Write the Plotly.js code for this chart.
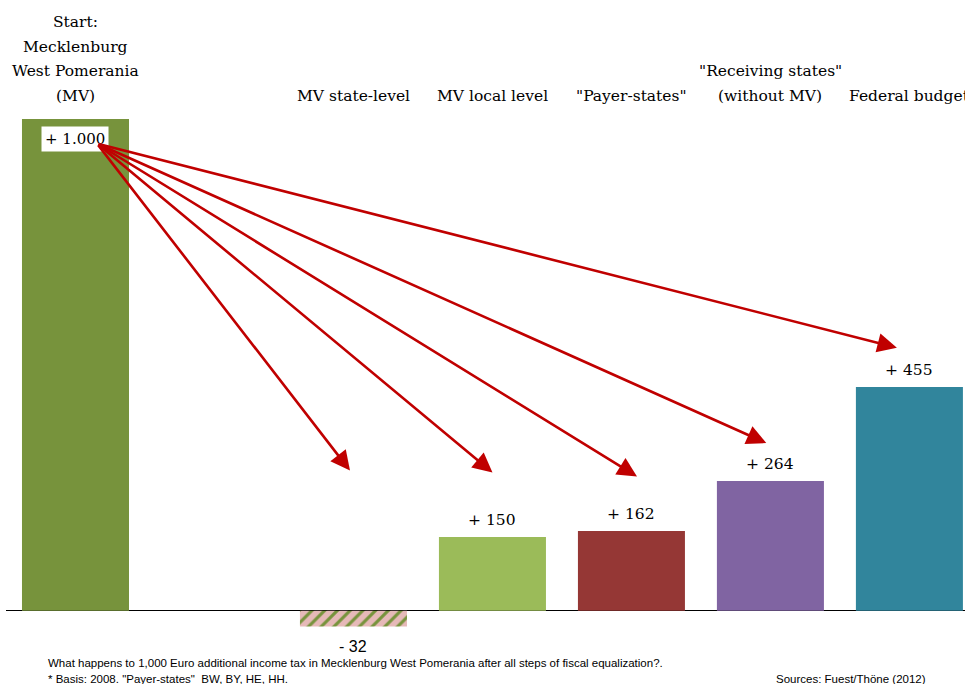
<!DOCTYPE html>
<html>
<head>
<meta charset="utf-8">
<script src="https://cdn.plot.ly/plotly-3.0.1.min.js"></script>
<style>html,body{margin:0;padding:0;background:#fff;}#chart{width:965px;height:684px;}</style>
</head>
<body>
<div id="chart"></div>
<script>
// ---- data ----
const categories = ["Start:\nMecklenburg\nWest Pomerania\n(MV)", "MV state-level", "MV local level", "\"Payer-states\"", "\"Receiving states\"\n(without MV)", "Federal budget"];
const slots = [0, 2, 3, 4, 5, 6];
const values = [1000, -32, 150, 162, 264, 455];
const valueLabels = ["+ 1.000", "- 32", "+ 150", "+ 162", "+ 264", "+ 455"];
const barColors = ["#77933C", "#E6B9B8", "#9BBB59", "#953735", "#8064A2", "#31859C"];
const stripeColor = "#77933C";
// arrows: from the start bar to each destination
const arrowStartX = 0.155;
const arrowStartY = 950;
const arrowEndX = [1.975, 3.0, 4.04, 4.97, 5.91];
const arrowEndY = [285, 281, 273, 341, 535];
const footnote1 = "What happens to 1,000 Euro additional income tax in Mecklenburg West Pomerania after all steps of fiscal equalization?.";
const footnote2 = "* Basis: 2008. \"Payer-states\"  BW, BY, HE, HH.";
const sourceText = "Sources: Fuest/Thöne (2012)";

const serif = "DejaVu Serif, serif";
const narrow = "Liberation Sans Narrow, Arial Narrow, Liberation Sans, sans-serif";

const posIdx = values.map((v, i) => i).filter(i => values[i] >= 0);
const negIdx = values.map((v, i) => i).filter(i => values[i] < 0);

const posTrace = {
  type: "bar",
  x: posIdx.map(i => slots[i]),
  y: posIdx.map(i => values[i]),
  width: 0.77,
  marker: {color: posIdx.map(i => barColors[i]), line: {width: 0}},
  hoverinfo: "skip",
  cliponaxis: false
};
const negTrace = {
  type: "bar",
  x: negIdx.map(i => slots[i]),
  y: negIdx.map(i => values[i]),
  width: 0.77,
  marker: {
    color: stripeColor,
    line: {width: 0},
    pattern: {
      shape: "/",
      fillmode: "replace",
      bgcolor: barColors[negIdx[0]],
      fgcolor: stripeColor,
      fgopacity: 1,
      size: 9,
      solidity: 0.35
    }
  },
  hoverinfo: "skip",
  cliponaxis: false
};

const annotations = [];
// category labels (line by line)
categories.forEach((c, i) => {
  const lines = c.split("\n");
  const n = lines.length;
  lines.forEach((ln, j) => {
    annotations.push({
      xref: "x", yref: "paper", x: slots[i],
      y: 1 - (96 - (n - 1 - j) * 24.7) / 684,
      text: ln, showarrow: false,
      xanchor: "center", yanchor: "middle",
      font: {family: serif, size: 15.5, color: "#000"}
    });
  });
});
// value labels
values.forEach((v, i) => {
  if (i === 0) {
    annotations.push({
      xref: "x", yref: "y", x: slots[i], y: v, yshift: -20,
      text: valueLabels[i], showarrow: false, bgcolor: "#ffffff",
      borderpad: 3, xanchor: "center", yanchor: "middle",
      font: {family: serif, size: 15, color: "#000"}
    });
  } else if (v < 0) {
    annotations.push({
      xref: "x", yref: "y", x: slots[i], y: v, yshift: -10,
      text: valueLabels[i], showarrow: false,
      xanchor: "center", yanchor: "top",
      font: {family: narrow, size: 16, color: "#000"}
    });
  } else {
    annotations.push({
      xref: "x", yref: "y", x: slots[i], y: v, yshift: 6,
      text: valueLabels[i], showarrow: false,
      xanchor: "center", yanchor: "bottom",
      font: {family: serif, size: 15.5, color: "#000"}
    });
  }
});
// arrows
arrowEndX.forEach((ex, i) => {
  annotations.push({
    xref: "x", yref: "y", axref: "x", ayref: "y",
    x: ex, y: arrowEndY[i], ax: arrowStartX, ay: arrowStartY,
    text: "", showarrow: true, arrowhead: 2, arrowsize: 1.5, arrowwidth: 2.6,
    arrowcolor: "#C00000", standoff: 0, startstandoff: 0
  });
});
// footnotes
annotations.push({xref: "paper", yref: "paper", x: 40 / 965, y: 1 - 663 / 684, text: footnote1, showarrow: false, xanchor: "left", yanchor: "middle", font: {family: narrow, size: 11.5, color: "#000"}});
annotations.push({xref: "paper", yref: "paper", x: 40 / 965, y: 1 - 679 / 684, text: footnote2, showarrow: false, xanchor: "left", yanchor: "middle", font: {family: narrow, size: 11.5, color: "#000"}});
annotations.push({xref: "paper", yref: "paper", x: 928 / 965, y: 1 - 679 / 684, text: sourceText, showarrow: false, xanchor: "right", yanchor: "middle", font: {family: narrow, size: 11.5, color: "#000"}});

const layout = {
  width: 965, height: 684,
  margin: {l: 6, r: 0, t: 0, b: 0},
  paper_bgcolor: "#fff", plot_bgcolor: "#fff",
  showlegend: false,
  barmode: "overlay",
  xaxis: {range: [-0.5, 6.4], showgrid: false, zeroline: false, showticklabels: false, ticks: "", fixedrange: true},
  yaxis: {range: [-149, 1242], showgrid: false, zeroline: true, zerolinecolor: "#000", zerolinewidth: 1.5, showticklabels: false, ticks: "", fixedrange: true},
  annotations: annotations
};

Plotly.newPlot("chart", [posTrace, negTrace], layout, {displayModeBar: false, staticPlot: true});
</script>
</body>
</html>
